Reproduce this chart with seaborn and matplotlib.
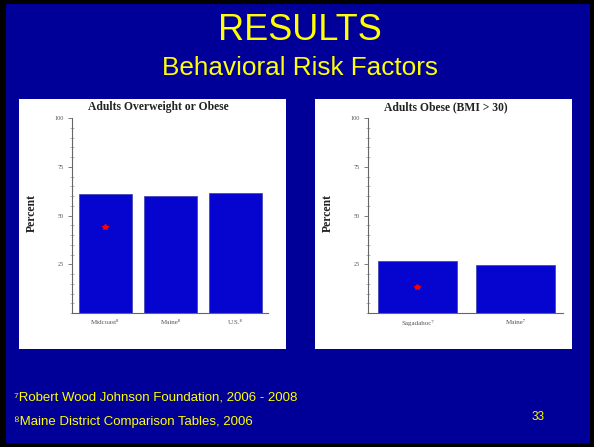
import matplotlib
matplotlib.use("Agg")
import matplotlib.pyplot as plt
from matplotlib.patches import Rectangle
from matplotlib.ticker import MultipleLocator, FixedLocator
import seaborn as sns
import pandas as pd

sns.set_theme(style="white")

# ---- data ----
left_cats = ["Midcoast\u2078", "Maine\u2078", "U.S.\u2078"]
left_vals = [61, 60, 61.5]
left_star = 44          # red star marker on Midcoast bar

right_cats = ["Sagadahoc\u2077", "Maine\u2077"]
right_vals = [26.5, 24.5]
right_star = 13.5       # red star marker on Sagadahoc bar

yticks = [25, 50, 75, 100]
title_main = "RESULTS"
title_sub = "Behavioral Risk Factors"
left_title = "Adults Overweight or Obese"
right_title = "Adults Obese (BMI > 30)"
foot1 = "\u2077Robert Wood Johnson Foundation, 2006 - 2008"
foot2 = "\u2078Maine District Comparison Tables, 2006"
page = "33"

W, H = 594, 447
fig = plt.figure(figsize=(W / 100, H / 100), dpi=100)
fig.patch.set_facecolor("black")

def px(x, y):
    return x / W, 1 - y / H

BG = "#000099"
YEL = "#FFFF00"
BAR = "#0505CF"
SERIF = ["Liberation Serif", "DejaVu Serif"]
SANS = ["Liberation Sans", "DejaVu Sans"]

# slide background
fig.patches.append(Rectangle((6 / W, 4 / H), (W - 10) / W, (H - 8) / H,
                             transform=fig.transFigure, facecolor=BG,
                             edgecolor="none", zorder=0))
# white panels
for (x0, x1) in [(19, 286), (315, 572)]:
    fig.patches.append(Rectangle((x0 / W, 1 - 349 / H), (x1 - x0) / W, (349 - 99) / H,
                                 transform=fig.transFigure, facecolor="white",
                                 edgecolor="none", zorder=1))

# titles
fig.text(*px(300, 31), title_main, color=YEL, fontsize=26, family=SANS,
         ha="center", va="center")
fig.text(*px(300, 68), title_sub, color=YEL, fontsize=18.8, family=SANS,
         ha="center", va="center")

def make_panel(ax_rect, cats, vals, star, title, title_x, xlim):
    ax = fig.add_axes(ax_rect)
    ax.set_zorder(3)
    ax.set_facecolor("white")
    df = pd.DataFrame({"cat": cats, "val": vals})
    sns.barplot(data=df, x="cat", y="val", color=BAR, width=0.81,
                edgecolor="#4a4ab8", linewidth=0.6, saturation=1, ax=ax)
    ax.plot([0], [star], marker="*", color="red", markersize=3.8, linestyle="none")
    ax.set_ylim(0, 100)
    ax.set_xlim(*xlim)
    ax.yaxis.set_major_locator(FixedLocator(yticks))
    ax.yaxis.set_minor_locator(MultipleLocator(5))
    for s in ["top", "right"]:
        ax.spines[s].set_visible(False)
    for s in ["left", "bottom"]:
        ax.spines[s].set_color("#666666")
        ax.spines[s].set_linewidth(0.8)
    ax.tick_params(axis="y", which="major", direction="out", length=3, width=0.6,
                   color="#666666", labelsize=4.5, labelcolor="#555555", pad=3, left=True)
    ax.tick_params(axis="y", which="minor", direction="inout", length=2.5, width=0.5,
                   color="#999999", left=True)
    ax.tick_params(axis="x", length=0, labelsize=5, labelcolor="#555555", pad=5)
    for lab in ax.get_yticklabels() + ax.get_xticklabels():
        lab.set_family(SERIF)
    ax.set_xlabel("")
    ax.set_ylabel("")
    fig.text(*px(title_x, 107), title, fontsize=8.4, fontweight="bold", family=SERIF,
             color="#222222", ha="center", va="center", zorder=4)
    return ax

make_panel([72 / W, 1 - 313 / H, 196 / W, 195 / H], left_cats, left_vals, left_star,
           left_title, 158, (-0.515, 2.5))
make_panel([368 / W, 1 - 313 / H, 195 / W, 195 / H], right_cats, right_vals, right_star,
           right_title, 446, (-0.505, 1.485))

for xp in [32, 328]:
    fig.text(*px(xp, 213), "Percent", rotation=90, fontsize=8.5, fontweight="bold",
             family=SERIF, color="#222222", ha="center", va="center", zorder=4)

# footnotes
fig.text(*px(14, 398), foot1, color=YEL, fontsize=9.5, family=SANS, ha="left", va="center")
fig.text(*px(14, 422), foot2, color=YEL, fontsize=9.5, family=SANS, ha="left", va="center")
fig.text(*px(538, 417), page, color=YEL, fontsize=8.5, family=SANS, ha="center", va="center")

fig.savefig("out.png", dpi=100, facecolor=fig.get_facecolor())
